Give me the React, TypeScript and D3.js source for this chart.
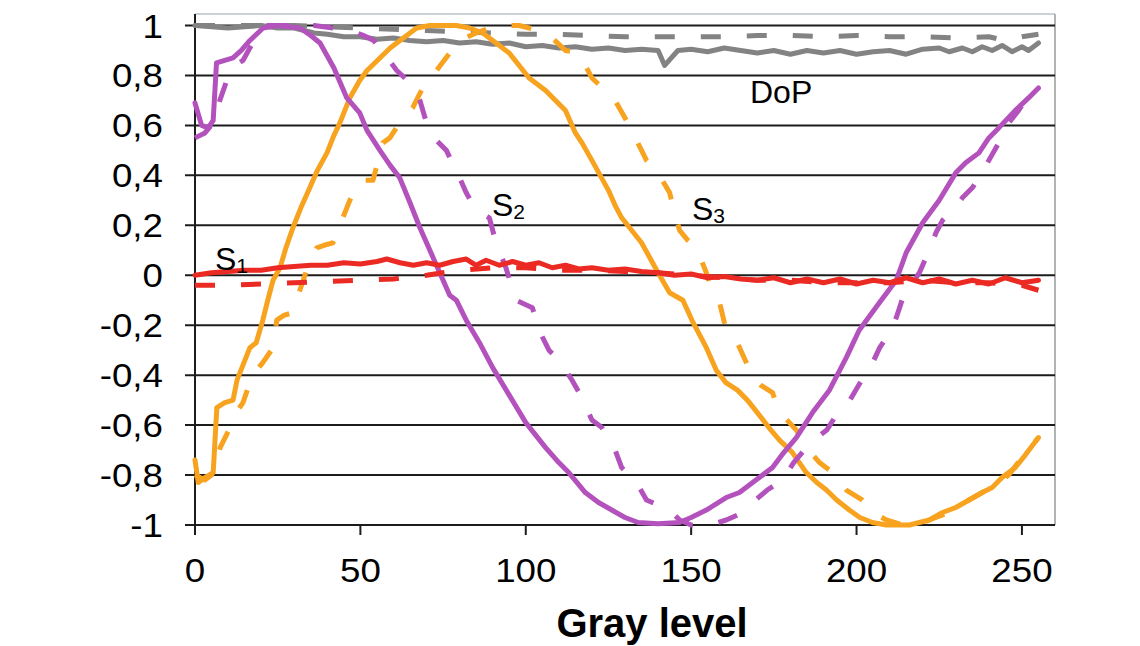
import React from "react";
import * as d3 from "d3";

// gray level vs normalised Stokes parameters
const xTicks = [0, 50, 100, 150, 200, 250];
const yTicks = [-1, -0.8, -0.6, -0.4, -0.2, 0, 0.2, 0.4, 0.6, 0.8, 1];

const dopSolid: [number, number][] = [
  [0, 1.0], [5, 0.995], [10, 0.99], [15, 0.995], [20, 1.0], [25, 0.99], [30, 0.99], [33, 0.98],
  [36, 0.97], [40, 0.965], [45, 0.955], [50, 0.955], [55, 0.945], [60, 0.95], [65, 0.94],
  [70, 0.935], [75, 0.94], [80, 0.93], [85, 0.935], [90, 0.925], [95, 0.93], [100, 0.915],
  [105, 0.92], [110, 0.91], [115, 0.915], [120, 0.905], [125, 0.91], [130, 0.9], [135, 0.905],
  [140, 0.9], [142, 0.84], [144, 0.87], [146, 0.9], [150, 0.905], [155, 0.895], [160, 0.91],
  [165, 0.9], [170, 0.89], [175, 0.9], [180, 0.885], [185, 0.9], [190, 0.89], [195, 0.9],
  [200, 0.885], [205, 0.895], [210, 0.9], [215, 0.885], [220, 0.905], [225, 0.91], [228, 0.895],
  [232, 0.91], [235, 0.895], [238, 0.915], [241, 0.9], [244, 0.92], [247, 0.895], [250, 0.915],
  [252, 0.9], [255, 0.93],
];

const dopDashed: [number, number][] = [
  [0, 1.0], [10, 1.0], [20, 1.0], [30, 1.0], [40, 0.995], [50, 0.99], [60, 0.985], [70, 0.98],
  [80, 0.975], [90, 0.97], [100, 0.965], [110, 0.965], [120, 0.96], [130, 0.955], [140, 0.955],
  [150, 0.955], [160, 0.955], [170, 0.96], [180, 0.96], [190, 0.955], [200, 0.96], [210, 0.955],
  [220, 0.955], [230, 0.95], [240, 0.955], [245, 0.94], [250, 0.955], [255, 0.965],
];

const s1Solid: [number, number][] = [
  [0, 0.0], [5, 0.01], [10, 0.015], [15, 0.02], [20, 0.02], [25, 0.03], [30, 0.035], [35, 0.04],
  [40, 0.04], [45, 0.05], [50, 0.045], [55, 0.055], [58, 0.065], [62, 0.05], [66, 0.04],
  [70, 0.05], [74, 0.04], [78, 0.055], [82, 0.065], [85, 0.04], [88, 0.06], [92, 0.04],
  [96, 0.055], [100, 0.04], [104, 0.05], [108, 0.03], [112, 0.04], [116, 0.025], [120, 0.03],
  [125, 0.02], [130, 0.025], [135, 0.015], [140, 0.01], [145, 0.0], [150, 0.005], [155, -0.01],
  [160, -0.005], [165, -0.015], [170, -0.02], [175, -0.01], [180, -0.03], [185, -0.015],
  [190, -0.03], [195, -0.015], [200, -0.035], [205, -0.02], [210, -0.03], [215, -0.01],
  [220, -0.03], [225, -0.015], [230, -0.035], [235, -0.02], [240, -0.035], [245, -0.01],
  [250, -0.03], [255, -0.02],
];

const s1Dashed: [number, number][] = [
  [0, -0.04], [10, -0.04], [20, -0.035], [30, -0.03], [40, -0.025], [50, -0.02], [60, -0.015],
  [70, 0.0], [80, 0.02], [90, 0.03], [100, 0.03], [110, 0.02], [120, 0.02], [130, 0.015],
  [140, 0.01], [150, 0.0], [160, -0.01], [170, -0.02], [180, -0.02], [190, -0.03], [200, -0.03],
  [210, -0.03], [220, -0.02], [230, -0.03], [240, -0.03], [250, -0.04], [255, -0.06],
];

const s2Solid: [number, number][] = [
  [0, 0.69], [2, 0.6], [4, 0.59], [5.5, 0.62], [6.5, 0.85], [9, 0.86], [11.5, 0.87], [14, 0.9],
  [16.6, 0.94], [20.6, 0.99], [25, 1.0], [31.7, 0.99], [35, 0.96], [37.8, 0.93], [42, 0.83],
  [45.9, 0.71], [49.8, 0.65], [52, 0.58], [55.9, 0.5], [59, 0.44], [61.9, 0.39], [65, 0.29],
  [68, 0.19], [71, 0.1], [74, 0.01], [77, -0.08], [79, -0.1], [82, -0.18], [86, -0.27],
  [90, -0.37], [95, -0.48], [100, -0.59], [103, -0.64], [106, -0.69], [110, -0.75], [113, -0.79],
  [118, -0.87], [122, -0.91], [126, -0.94], [130, -0.97], [134, -0.99], [140, -0.995],
  [146.5, -0.99], [150, -0.97], [154.6, -0.94], [160.6, -0.89], [164.6, -0.87], [170.6, -0.81],
  [174.6, -0.77], [178, -0.71], [181.8, -0.65], [186.7, -0.55], [191.8, -0.46], [196.9, -0.33],
  [200.8, -0.22], [206.9, -0.11], [212, -0.02], [215, 0.09], [220, 0.21], [225, 0.3], [230, 0.41],
  [233, 0.45], [237, 0.49], [240, 0.55], [243, 0.59], [248, 0.66], [252, 0.71], [255, 0.75],
];

const s2Dashed: [number, number][] = [
  [0, 0.55], [3, 0.57], [5.5, 0.61], [7.5, 0.7], [9.6, 0.78], [12, 0.84], [14.5, 0.86], [17, 0.92],
  [19.6, 0.97], [22, 1.0], [30, 1.0], [36, 1.0], [41.7, 0.99], [47, 0.98], [51, 0.96], [54, 0.94],
  [57, 0.89], [61, 0.82], [65, 0.77], [68, 0.7], [70, 0.61], [73, 0.54], [76, 0.5], [80, 0.39],
  [82, 0.33], [85, 0.26], [89, 0.23], [91, 0.13], [94, 0.03], [97, -0.1], [102, -0.13],
  [104, -0.22], [107, -0.3], [110, -0.34], [114, -0.42], [117, -0.49], [120, -0.58], [123, -0.61],
  [127, -0.7], [129, -0.77], [133.5, -0.83], [136.5, -0.9], [143.5, -0.94], [146.5, -0.98],
  [150, -1.0], [155.5, -1.0], [160.6, -0.98], [164, -0.96], [168.6, -0.91], [173, -0.86],
  [177.6, -0.82], [181, -0.75], [184.8, -0.69], [187, -0.66], [191, -0.62], [194.8, -0.54],
  [198, -0.5], [202, -0.41], [204.5, -0.36], [207, -0.29], [209, -0.25], [212, -0.17],
  [214, -0.09], [216.5, -0.04], [219, 0.01], [222, 0.1], [224, 0.17], [226, 0.22], [229, 0.26],
  [232, 0.31], [235, 0.35], [237, 0.39], [240, 0.46], [243, 0.53], [246, 0.61], [249, 0.66],
  [251, 0.7], [255, 0.75],
];

const s3Solid: [number, number][] = [
  [0, -0.74], [1, -0.83], [3, -0.81], [5.5, -0.79], [6.6, -0.53], [9, -0.51], [11.5, -0.5],
  [12.7, -0.42], [14.5, -0.36], [16.6, -0.29], [18.5, -0.27], [20.5, -0.18], [22, -0.1],
  [23.6, -0.02], [25.7, 0.03], [27.5, 0.11], [29.6, 0.19], [32, 0.27], [34.7, 0.35], [37, 0.42],
  [39.9, 0.49], [42, 0.56], [43.8, 0.61], [46.8, 0.71], [49.8, 0.78], [52, 0.82], [55.9, 0.87],
  [59, 0.91], [62, 0.94], [67, 0.99], [71, 1.0], [75, 1.0], [79, 1.0], [83, 0.99], [87, 0.97],
  [90, 0.94], [95, 0.89], [98, 0.84], [101, 0.79], [106, 0.74], [109, 0.7], [112, 0.66],
  [115, 0.57], [117, 0.53], [120, 0.46], [122.5, 0.4], [125, 0.34], [127, 0.28], [129, 0.23],
  [132, 0.18], [135, 0.13], [137.5, 0.07], [140, 0.01], [143.5, -0.07], [147.5, -0.1],
  [150.6, -0.19], [154.6, -0.29], [157.6, -0.38], [160.5, -0.43], [164, -0.46], [167, -0.5],
  [170.6, -0.56], [173.5, -0.61], [176.7, -0.66], [180.6, -0.71], [184.8, -0.79], [188, -0.83],
  [190.9, -0.86], [194, -0.9], [197.8, -0.94], [201, -0.97], [204.8, -0.99], [209, -1.0],
  [213, -1.0], [216, -1.0], [219, -0.99], [222, -0.98], [226, -0.95], [230, -0.93], [234, -0.9],
  [238, -0.87], [241, -0.85], [244, -0.81], [248, -0.77], [251, -0.72], [255, -0.65],
];

const s3Dashed: [number, number][] = [
  [0, -0.8], [3, -0.82], [5, -0.8], [7.6, -0.69], [10.6, -0.61], [12.5, -0.55], [14.5, -0.51],
  [16.6, -0.43], [18, -0.39], [20.5, -0.35], [23.6, -0.29], [24.7, -0.18], [27, -0.16],
  [29.6, -0.15], [31.7, -0.06], [34, 0.03], [36.8, 0.11], [39, 0.12], [41.7, 0.13], [44.7, 0.23],
  [46.8, 0.3], [49.8, 0.38], [53.8, 0.38], [56.8, 0.53], [58.9, 0.55], [62.8, 0.63], [65.8, 0.67],
  [70, 0.78], [73, 0.82], [77, 0.89], [80, 0.94], [85, 0.97], [89, 0.99], [92, 1.0], [98, 1.0],
  [104, 0.98], [108, 0.95], [112, 0.9], [116, 0.89], [120, 0.79], [124, 0.74], [127, 0.7],
  [130, 0.63], [133.5, 0.54], [136.5, 0.46], [140, 0.41], [143.5, 0.33], [145, 0.25],
  [146.5, 0.18], [149, 0.14], [151.6, 0.11], [154.6, 0.01], [156.5, -0.07], [158.6, -0.11],
  [160.6, -0.22], [163.6, -0.26], [166.7, -0.35], [168.6, -0.41], [171, -0.44], [174.6, -0.47],
  [176.7, -0.55], [179, -0.58], [181.8, -0.62], [184.8, -0.69], [188.8, -0.75], [192.8, -0.79],
  [196.9, -0.86], [201.8, -0.9], [205, -0.95], [209, -0.98], [214, -1.0], [218, -1.0],
  [222, -0.98], [226, -0.96], [230, -0.93], [234, -0.9], [238, -0.87], [242, -0.84], [246, -0.8],
  [250, -0.73], [255, -0.65],
];

const GRAY = "#838383";
const RED = "#ec2a24";
const PURPLE = "#b452bd";
const ORANGE = "#f8a31f";
const DASH = "20,26";

const W = 1140;
const H = 646;
const FONT = "'Liberation Sans', Arial, sans-serif";

const x = d3.scaleLinear().domain([0, 260]).range([195, 1055]);
const y = d3.scaleLinear().domain([-1, 1]).range([525, 25.5]);
const line = d3
  .line<[number, number]>()
  .x((d) => x(d[0]))
  .y((d) => y(d[1]));

const series = [
  { data: dopDashed, color: GRAY, dashed: true },
  { data: dopSolid, color: GRAY, dashed: false },
  { data: s3Dashed, color: ORANGE, dashed: true },
  { data: s3Solid, color: ORANGE, dashed: false },
  { data: s2Dashed, color: PURPLE, dashed: true },
  { data: s2Solid, color: PURPLE, dashed: false },
  { data: s1Dashed, color: RED, dashed: true },
  { data: s1Solid, color: RED, dashed: false },
];

const fmt = (v: number) => (v === 0 ? "0" : String(+v.toFixed(1)).replace(".", ","));

export default function App() {
  const top = 14;
  const left = x(0);
  const right = x(260);
  const bottom = y(-1);

  return (
    <svg
      width={W}
      height={H}
      style={{ position: "absolute", left: 0, top: 0, background: "#fff" }}
      fontFamily={FONT}
    >
      {/* plot frame */}
      <line x1={left} x2={right} y1={top} y2={top} stroke="#b9c3cc" strokeWidth={1.5} />
      <line x1={right} x2={right} y1={top} y2={bottom} stroke="#9a9a9a" strokeWidth={1.5} />

      {/* gridlines + y ticks */}
      {yTicks.map((t) => (
        <g key={t}>
          <line x1={left - 10} x2={right} y1={y(t)} y2={y(t)} stroke="#1c1c1c" strokeWidth={2} />
          <g transform={`translate(163,${y(t) + 12}) scale(1.08,1)`}>
            <text textAnchor="end" fontSize={34} fill="#000">
              {fmt(t)}
            </text>
          </g>
        </g>
      ))}

      {/* axes */}
      <line x1={left} x2={left} y1={top} y2={bottom + 10} stroke="#1c1c1c" strokeWidth={2} />
      {xTicks.map((t) => (
        <g key={t}>
          <line x1={x(t)} x2={x(t)} y1={bottom} y2={bottom + 10} stroke="#1c1c1c" strokeWidth={2} />
          <g transform={`translate(${x(t)},582) scale(1.08,1)`}>
            <text textAnchor="middle" fontSize={34} fill="#000">
              {t}
            </text>
          </g>
        </g>
      ))}

      {/* series */}
      {series.map((s, i) => (
        <path
          key={i}
          d={line(s.data) || ""}
          fill="none"
          stroke={s.color}
          strokeWidth={5}
          strokeLinejoin="round"
          strokeLinecap={s.dashed ? "butt" : "round"}
          strokeDasharray={s.dashed ? DASH : undefined}
        />
      ))}

      {/* labels */}
      <text x={750} y={103} fontSize={32} fill="#000">
        DoP
      </text>
      <text x={215} y={270} fontSize={32} fill="#000">
        S<tspan fontSize={21} dy={3}>1</tspan>
      </text>
      <text x={492} y={216} fontSize={32} fill="#000">
        S<tspan fontSize={21} dy={3}>2</tspan>
      </text>
      <text x={692} y={220} fontSize={32} fill="#000">
        S<tspan fontSize={21} dy={3}>3</tspan>
      </text>

      <text x={652} y={637} textAnchor="middle" fontSize={40} fontWeight="bold" fill="#000">
        Gray level
      </text>
    </svg>
  );
}
